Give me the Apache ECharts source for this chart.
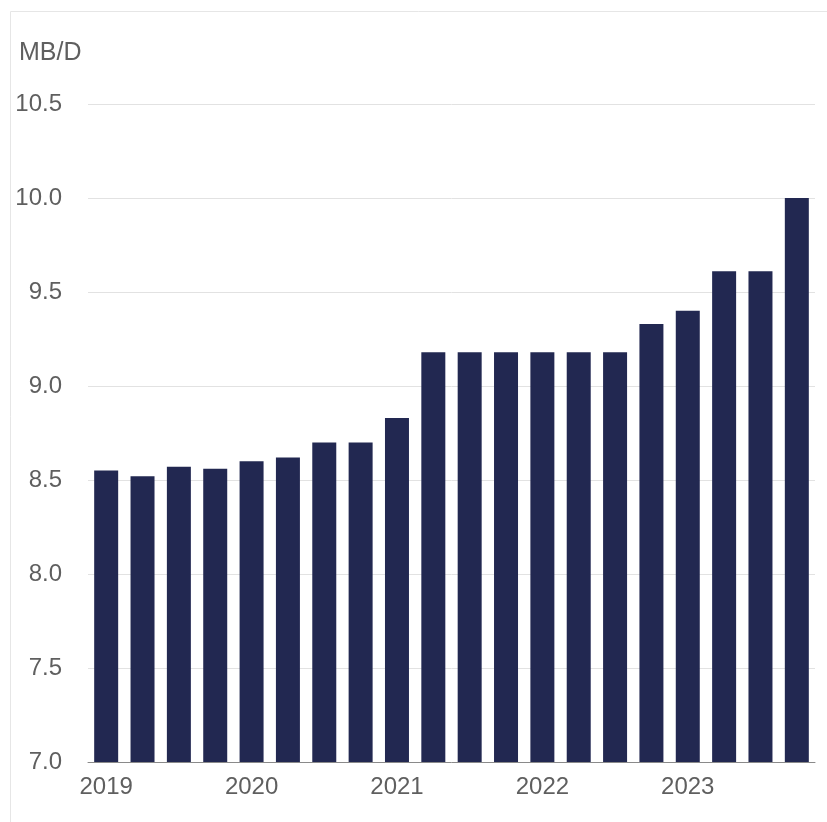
<!DOCTYPE html>
<html>
<head>
<meta charset="utf-8">
<script src="https://cdn.jsdelivr.net/npm/echarts@6/dist/echarts.min.js"></script>
<style>
    html, body { margin: 0; padding: 0; background: #fff; }
    #chart { width: 827px; height: 822px; }
</style>
</head>
<body>
<div id="chart"></div>
<script>
// 季度类别
var quarters = [
    '2019Q1', '2019Q2', '2019Q3', '2019Q4',
    '2020Q1', '2020Q2', '2020Q3', '2020Q4',
    '2021Q1', '2021Q2', '2021Q3', '2021Q4',
    '2022Q1', '2022Q2', '2022Q3', '2022Q4',
    '2023Q1', '2023Q2', '2023Q3', '2023Q4'
];
// 产量 (MB/D)
var output = [
    8.55, 8.52, 8.57, 8.56,
    8.60, 8.62, 8.70, 8.70,
    8.83, 9.18, 9.18, 9.18,
    9.18, 9.18, 9.18, 9.33,
    9.40, 9.61, 9.61, 10.00
];
var yearLabels = ['2019', '2020', '2021', '2022', '2023'];
var unitName = 'MB/D';

var textColor = '#5f5f5f';
var font = 'Liberation Sans';

var myChart = echarts.init(document.getElementById('chart'));
myChart.setOption({
    animation: false,
    title: {
        text: unitName,
        left: 14,
        top: 36,
        textStyle: {
            color: textColor,
            fontSize: 25,
            fontWeight: 'normal',
            fontFamily: font
        }
    },
    graphic: [{ // 外框
        type: 'polyline',
        shape: { points: [[10.5, 822], [10.5, 11.5], [827, 11.5]] },
        style: { stroke: '#e6e6e6', lineWidth: 1, fill: null },
        silent: true
    }],
    grid: {
        left: 88,
        right: 12,
        top: 104,
        bottom: 60
    },
    xAxis: {
        type: 'category',
        data: quarters,
        axisLine: { lineStyle: { color: '#8a8a8a', width: 1 } },
        axisTick: {
            interval: 3,
            length: 6,
            lineStyle: { color: '#8a8a8a' }
        },
        axisLabel: {
            interval: 3,
            margin: 13,
            color: textColor,
            fontSize: 24,
            fontFamily: font,
            formatter: function (value, index) {
                return yearLabels[index / 4];
            }
        }
    },
    yAxis: {
        type: 'value',
        min: 7,
        max: 10.5,
        interval: 0.5,
        axisLine: { show: false },
        axisTick: { show: false },
        splitLine: { lineStyle: { color: '#e2e2e2', width: 1 } },
        axisLabel: {
            margin: 26,
            color: textColor,
            fontSize: 24,
            fontFamily: font,
            formatter: function (v) { return v.toFixed(1); }
        }
    },
    series: [{
        type: 'bar',
        data: output,
        barCategoryGap: '34%',
        itemStyle: { color: '#222851' }
    }]
});
</script>
</body>
</html>
